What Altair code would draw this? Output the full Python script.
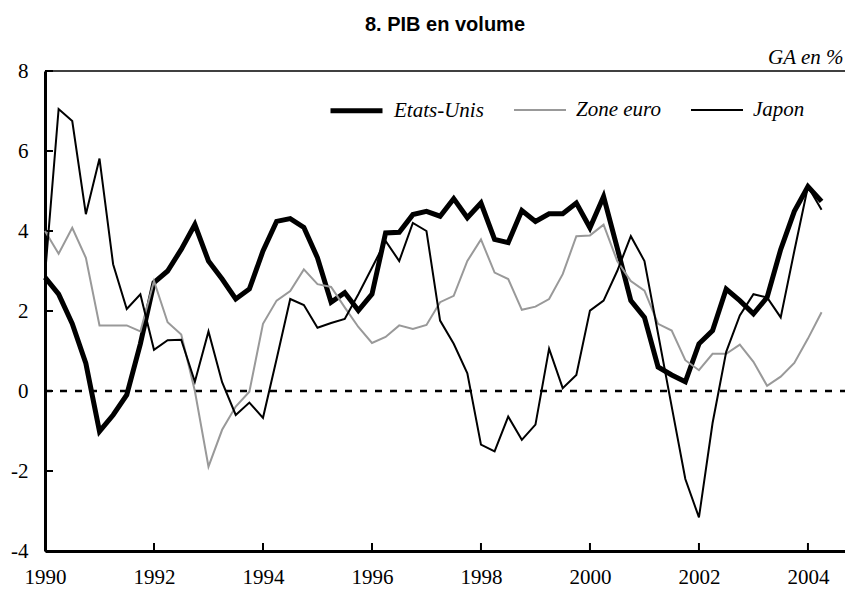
import altair as alt
import pandas as pd

# ---- data (quarterly, GA en %) ----
series_names = ["Etats-Unis", "Zone euro", "Japon"]
start_year = 1990
n_quarters = 58  # 1990T1 .. 2004T2

etats_unis = [2.84, 2.42, 1.68, 0.69, -1.01, -0.60, -0.10, 1.18, 2.71, 3.00,
              3.54, 4.16, 3.25, 2.80, 2.30, 2.55, 3.50, 4.24, 4.31, 4.09,
              3.33, 2.22, 2.46, 2.01, 2.42, 3.95, 3.97, 4.41, 4.49, 4.37,
              4.81, 4.33, 4.70, 3.79, 3.71, 4.51, 4.24, 4.43, 4.43, 4.70,
              4.08, 4.86, 3.58, 2.26, 1.84, 0.60, 0.40, 0.23, 1.18, 1.51,
              2.55, 2.26, 1.93, 2.34, 3.54, 4.49, 5.11, 4.74]
zone_euro = [4.00, 3.43, 4.08, 3.33, 1.64, 1.64, 1.64, 1.49, 2.75, 1.72,
             1.41, 0.00, -1.89, -0.97, -0.39, -0.02, 1.68, 2.26, 2.50, 3.04,
             2.67, 2.60, 2.09, 1.60, 1.20, 1.35, 1.64, 1.55, 1.65, 2.22,
             2.38, 3.25, 3.79, 2.96, 2.80, 2.03, 2.11, 2.30, 2.92, 3.87,
             3.89, 4.16, 3.25, 2.75, 2.51, 1.68, 1.51, 0.77, 0.52, 0.93,
             0.93, 1.16, 0.73, 0.13, 0.36, 0.70, 1.31, 1.97]
japon = [2.90, 7.05, 6.75, 4.42, 5.81, 3.17, 2.05, 2.42, 1.03, 1.27,
         1.28, 0.23, 1.49, 0.22, -0.60, -0.29, -0.67, 0.80, 2.30, 2.15,
         1.58, 1.70, 1.80, 2.42, 3.08, 3.75, 3.25, 4.20, 4.00, 1.76,
         1.18, 0.44, -1.34, -1.51, -0.64, -1.22, -0.84, 1.06, 0.07, 0.40,
         2.01, 2.26, 3.00, 3.87, 3.25, 1.43, -0.39, -2.20, -3.16, -0.80,
         0.98, 1.89, 2.42, 2.34, 1.84, 3.50, 5.11, 4.53]

x_ticks = [1990, 1992, 1994, 1996, 1998, 2000, 2002, 2004]
y_ticks = [-4, -2, 0, 2, 4, 6, 8]

dates = [start_year + q / 4 for q in range(n_quarters)]
rows = []
for name, vals in zip(series_names, [etats_unis, zone_euro, japon]):
    for d, v in zip(dates, vals):
        rows.append({"date": d, "value": v, "series": name})
df = pd.DataFrame(rows)

W, H = 800, 480
SERIF = "Liberation Serif"

xscale = alt.Scale(domain=[1990, 2004.68], nice=False, zero=False)
yscale = alt.Scale(domain=[-4, 8], nice=False, zero=False)

xaxis = alt.Axis(
    values=x_ticks, format="d", ticks=False, grid=False, domainWidth=3,
    domainColor="black", labelFont=SERIF, labelFontSize=21, labelColor="black",
    labelPadding=15, labelFlush=False, labelOverlap=False, title=None)
yaxis = alt.Axis(
    values=y_ticks, ticks=False, grid=False, domainWidth=3, domainColor="black",
    labelFont=SERIF, labelFontSize=21, labelColor="black", labelPadding=17,
    labelFlush=False, labelOverlap=False, labelExpr="'' + datum.value",
    title="GA en %", titleAngle=0, titleAlign="right", titleBaseline="alphabetic",
    titleX=W - 2, titleY=-8, titleFont=SERIF, titleFontStyle="italic",
    titleFontWeight="normal", titleFontSize=21, titleColor="black")

legend = alt.Legend(
    title=None, orient="none", legendX=283, legendY=11, direction="horizontal",
    symbolType="stroke", symbolSize=2704, labelFont=SERIF, labelFontStyle="italic",
    labelFontSize=21, labelColor="black", labelOffset=9, columnPadding=26, padding=0,
)

lines = alt.Chart(df).mark_line(strokeJoin="miter").encode(
    x=alt.X("date:Q", scale=xscale, axis=xaxis),
    y=alt.Y("value:Q", scale=yscale, axis=yaxis),
    color=alt.Color("series:N", scale=alt.Scale(domain=series_names,
                    range=["black", "#999999", "black"]), legend=legend),
    strokeWidth=alt.StrokeWidth("series:N", scale=alt.Scale(type="ordinal",
                    domain=series_names, range=[5, 2, 2]), legend=legend),
    order=alt.Order("date:Q"),
)

zero_df = pd.DataFrame({"y": [0]})
zero = alt.Chart(zero_df).mark_rule(color="black", strokeWidth=2.5, strokeDash=[7, 8]).encode(
    y=alt.Y("y:Q", scale=yscale, axis=yaxis), x=alt.value(0), x2=alt.value(W))

xt_df = pd.DataFrame({"t": x_ticks})
xticks = alt.Chart(xt_df).mark_rule(color="black", strokeWidth=2).encode(
    x=alt.X("t:Q", scale=xscale, axis=xaxis), y=alt.value(H), y2=alt.value(H - 8))

yt_df = pd.DataFrame({"t": y_ticks})
yticks = alt.Chart(yt_df).mark_rule(color="black", strokeWidth=2).encode(
    y=alt.Y("t:Q", scale=yscale, axis=yaxis), x=alt.value(0), x2=alt.value(8))

top = alt.Chart(zero_df).mark_rule(color="black", strokeWidth=1.5).encode(
    y=alt.value(0), x=alt.value(0), x2=alt.value(W))

chart = alt.layer(zero, xticks, yticks, top, lines).properties(
    width=W, height=H,
    title=alt.TitleParams("8. PIB en volume", font="Liberation Sans", fontSize=20,
                          fontWeight="bold", color="black", anchor="middle", offset=11),
    background="white",
    autosize=alt.AutoSizeParams(type="none"),
    padding={"left": 37, "top": 63, "right": 0, "bottom": 38},
).configure_view(stroke=None)

chart.save("out.html", embed_options={"renderer": "svg", "actions": False})
